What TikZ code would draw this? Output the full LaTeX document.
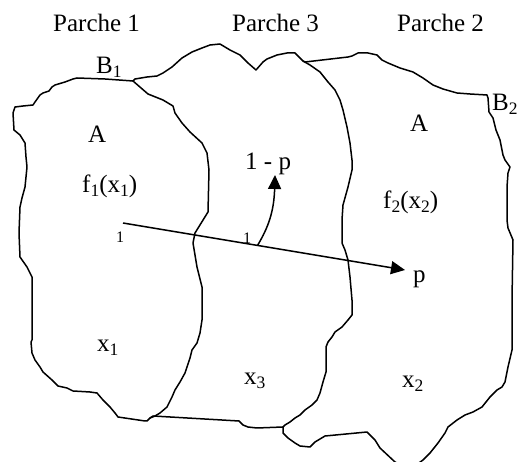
\documentclass[tikz,border=0pt]{standalone}
\usepackage{fontspec}
\setmainfont{Liberation Serif}
\usetikzlibrary{arrows.meta,calc}
\newcommand\subx[1]{\raisebox{-4pt}{\fontsize{17.5}{17.5}\selectfont #1}}
\begin{document}
\begin{tikzpicture}[x=1pt,y=-1pt,
  outline/.style={line width=1.5pt,line join=round,line cap=round},
  lbl/.style={anchor=base west,inner sep=0pt,font=\fontsize{25}{28}\selectfont},
  small/.style={anchor=base west,inner sep=0pt,font=\fontsize{16}{18}\selectfont},
  flow/.style={line width=1.5pt,-{Triangle[length=14pt,width=13pt]}}]
\useasboundingbox (0,0) rectangle (523,462);
\clip (0,0) rectangle (523,462);
% Parche 1 (closed outline)
\draw[outline] (77,78) -- (105,79) -- (133,81) -- (148,94) -- (163,100) -- (173,106) -- (175,113)
 -- (182,123) -- (190,132) -- (202,143) -- (207,153) -- (209,170) -- (208,212) -- (195,233)
 -- (193,243) -- (197,267) -- (202,287) -- (202,320) -- (200,333) -- (197,343) -- (192,350)
 -- (190,358) -- (185,373) -- (180,382) -- (175,390) -- (172,397) -- (167,407) -- (160,413)
 -- (155,416) -- (150,418) -- (147,421) -- (145,421) -- (118,417) -- (115,413) -- (110,407)
 -- (103,400) -- (97,393) -- (90,392) -- (73,391) -- (67,388) -- (58,386) -- (52,380)
 -- (43,372) -- (40,367) -- (35,360) -- (32,353) -- (31,342) -- (32,340) -- (32,277)
 -- (27,267) -- (20,257) -- (19,233) -- (20,207) -- (22,198) -- (25,187) -- (27,167)
 -- (26,157) -- (25,143) -- (20,135) -- (14,130) -- (13,113) -- (15,107) -- (23,106)
 -- (33,105) -- (35,102) -- (40,95) -- (43,93) -- (49,91) -- (52,87) -- (55,85)
 -- (65,82) -- (73,79) -- cycle;
% Parche 3 (top, right edge, bottom)
\draw[outline] (133,81) -- (135,79) -- (147,77) -- (157,76) -- (163,73) -- (172,67) -- (182,58)
 -- (192,52) -- (202,48) -- (210,45) -- (220,44) -- (230,50) -- (240,55) -- (248,63)
 -- (256,70) -- (263,62) -- (267,59) -- (277,55) -- (287,53) -- (295,53) -- (298,56)
 -- (303,61) -- (310,65) -- (320,72) -- (328,82) -- (335,90) -- (340,100) -- (343,110)
 -- (347,127) -- (350,143) -- (352,160) -- (352,170) -- (348,187) -- (343,205) -- (342,220)
 -- (342,243) -- (345,250) -- (348,260) -- (350,277) -- (352,300) -- (352,315) -- (348,320)
 -- (342,327) -- (335,332) -- (332,337) -- (328,342) -- (326,347) -- (326,372) -- (323,382)
 -- (320,393) -- (317,400) -- (312,405) -- (305,410) -- (300,415) -- (295,418) -- (290,422)
 -- (285,425) -- (283,427) -- (257,428) -- (248,427) -- (243,425) -- (239,421) -- (153,416)
 -- (150,418);
% Parche 2 (top, right edge, bottom)
\draw[outline] (303,61) -- (305,62) -- (348,57) -- (352,56) -- (358,53) -- (368,53) -- (377,55)
 -- (382,60) -- (388,63) -- (400,68) -- (413,72) -- (423,78) -- (433,85) -- (443,89)
 -- (457,93) -- (470,94) -- (487,95) -- (488,98) -- (489,112) -- (493,118) -- (496,130)
 -- (500,140) -- (503,155) -- (505,160) -- (510,167) -- (508,173) -- (507,187) -- (507,220)
 -- (508,228) -- (513,240) -- (512,300) -- (512,350) -- (508,367) -- (505,382) -- (502,387)
 -- (497,390) -- (490,397) -- (482,407) -- (473,412) -- (465,415) -- (457,420) -- (448,427)
 -- (445,433) -- (438,443) -- (430,453) -- (423,460) -- (409,470) -- (395,462) -- (380,448)
 -- (375,440) -- (367,432) -- (325,436) -- (320,439) -- (315,442) -- (310,447) -- (300,446)
 -- (295,443) -- (288,438) -- (283,433) -- (283,427);
% titles
\node[lbl] (t1) at (53,32) {Parche 1};
\node[lbl] (t3) at (232,32) {Parche 3};
\node[lbl] (t2) at (397,32) {Parche 2};
% labels
\node[lbl] (b1) at (96,74) {B\subx{1}};
\node[lbl] (b2) at (492,111) {B\subx{2}};
\node[lbl] (aL) at (88,143) {A};
\node[lbl] (aR) at (410,132) {A};
\node[lbl] (f1) at (82,193) {f\subx{1}(x\subx{1})};
\node[lbl] (f2) at (383,209) {f\subx{2}(x\subx{2})};
\node[lbl] (q) at (245,170) {1 - p};
\node[lbl] (pp) at (413,283) {p};
\node[lbl] (x1) at (97,352) {x\subx{1}};
\node[lbl] (x3) at (244,385) {x\subx{3}};
\node[lbl] (x2) at (402,388) {x\subx{2}};
\node[small] (s1) at (116,243) {1};
\node[small] (s2) at (243,244) {1};
% arrows
\coordinate (a1) at (123,223);
\coordinate (a2) at (405,270);
\coordinate (c1) at ($(a1)!0.477!(a2)$);
\coordinate (c2) at (275,175);
\draw[flow] (a1) -- (a2);
\draw[flow] (c1) .. controls (268,228) and (274,212) .. (c2);
\end{tikzpicture}
\end{document}
